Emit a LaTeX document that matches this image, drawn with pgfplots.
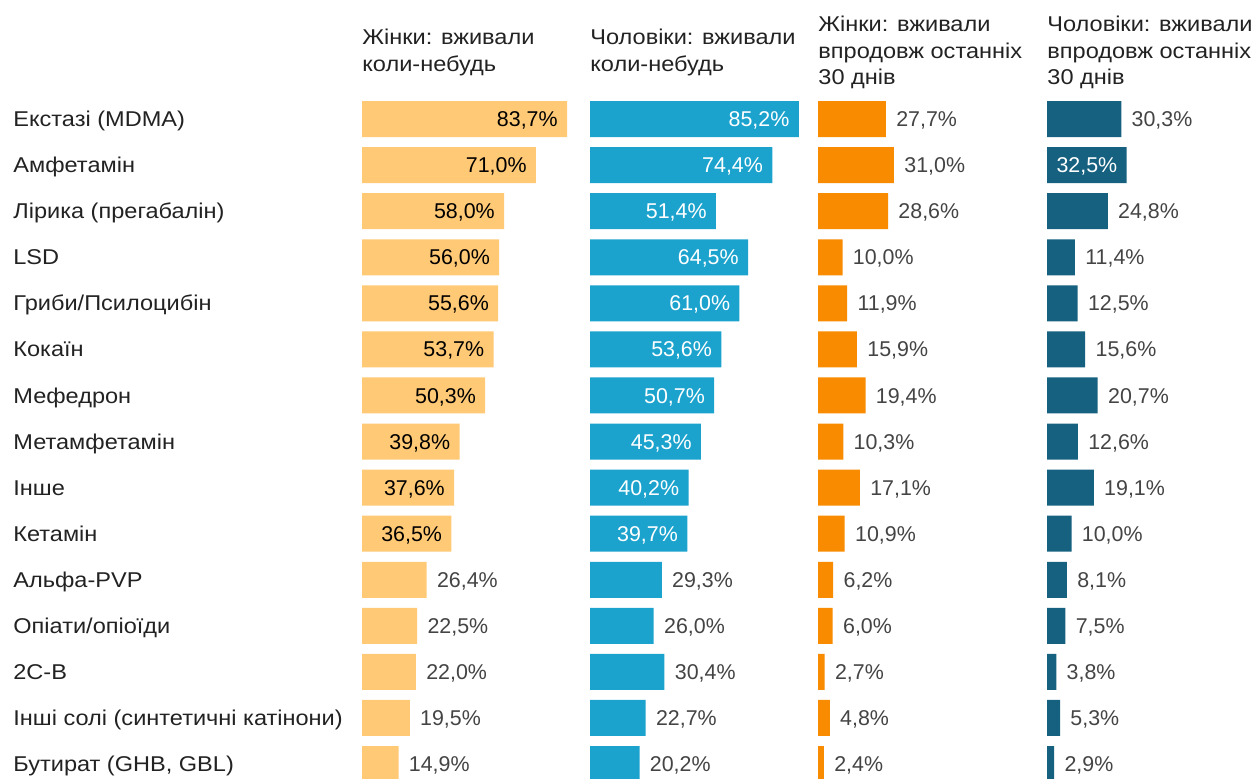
\documentclass[border=0pt]{standalone}
\usepackage{fontspec}
\setmainfont{Liberation Sans}[FakeStretch=1.1]
\newfontfamily\valfont{Liberation Sans}
\usepackage{pgfplots}
\pgfplotsset{compat=1.18}
\usepackage{pgfplotstable}

\definecolor{cA}{HTML}{FFC976}
\definecolor{cB}{HTML}{1BA3CE}
\definecolor{cC}{HTML}{F98B00}
\definecolor{cD}{HTML}{166180}
\definecolor{txt}{HTML}{222222}
\definecolor{val}{HTML}{444444}

\pgfplotstableread{
row a b c d
1 83.7 85.2 27.7 30.3
2 71.0 74.4 31.0 32.5
3 58.0 51.4 28.6 24.8
4 56.0 64.5 10.0 11.4
5 55.6 61.0 11.9 12.5
6 53.7 53.6 15.9 15.6
7 50.3 50.7 19.4 20.7
8 39.8 45.3 10.3 12.6
9 37.6 40.2 17.1 19.1
10 36.5 39.7 10.9 10.0
11 26.4 29.3 6.2 8.1
12 22.5 26.0 6.0 7.5
13 22.0 30.4 2.7 3.8
14 19.5 22.7 4.8 5.3
15 14.9 20.2 2.4 2.9
}\data

\pgfkeys{/pgf/number format/assume math mode=true}
\pgfplotsset{
  panel/.style={
    x=1.225pt, y=23.035pt, y dir=reverse,
    xmin=0, xmax=90, ymin=0.5, ymax=15.5,
    axis line style={draw=none}, tick style={draw=none},
    xtick=\empty, ytick=\empty, clip=false,
    anchor=north west,
  },
  barplot/.style={xbar, bar width=18pt, fill=#1, draw=none, bar shift=0pt},
  inlab/.style={draw=none, mark=none, restrict x to domain=32:200, point meta=x,
    nodes near coords={\pgfmathprintnumber[fixed,fixed zerofill,precision=1,use comma]{\pgfplotspointmeta}\%},
    nodes near coords style={anchor=base east, xshift=-4.5pt, yshift=-3.8pt, inner sep=0pt, text=#1, font=\valfont\fontsize{10.7pt}{12pt}\selectfont}},
  outlab/.style={draw=none, mark=none, restrict x to domain=0:32, point meta=x,
    nodes near coords={\pgfmathprintnumber[fixed,fixed zerofill,precision=1,use comma]{\pgfplotspointmeta}\%},
    nodes near coords style={anchor=base west, xshift=5pt, yshift=-3.8pt, inner sep=0pt, text=val, font=\valfont\fontsize{10.7pt}{12pt}\selectfont}},
}

\begin{document}
\begin{tikzpicture}
\path[use as bounding box] (0,0) rectangle (628pt,389pt);

\begin{axis}[panel, at={(181pt,341pt)},
  ytick={1,...,15},
  yticklabels={Екстазі (MDMA),Амфетамін,Лірика (прегабалін),LSD,Гриби/Псилоцибін,Кокаїн,Мефедрон,Метамфетамін,Інше,Кетамін,Альфа-PVP,Опіати/опіоїди,2C-B,Інші солі (синтетичні катінони),{Бутират (GHB, GBL)}},
  yticklabel style={anchor=base west, inner sep=0pt, xshift=-174.5pt, yshift=-3.8pt, text=txt, font=\fontsize{10.7pt}{12pt}\selectfont},
]
\addplot[barplot=cA] table[x=a, y=row] {\data};
\addplot[inlab=black] table[x=a, y=row] {\data};
\addplot[outlab] table[x=a, y=row] {\data};
\end{axis}

\begin{axis}[panel, at={(295pt,341pt)}]
\addplot[barplot=cB] table[x=b, y=row] {\data};
\addplot[inlab=white] table[x=b, y=row] {\data};
\addplot[outlab] table[x=b, y=row] {\data};
\end{axis}

\begin{axis}[panel, at={(409pt,341pt)}]
\addplot[barplot=cC] table[x=c, y=row] {\data};
\addplot[inlab=white] table[x=c, y=row] {\data};
\addplot[outlab] table[x=c, y=row] {\data};
\end{axis}

\begin{axis}[panel, at={(523.5pt,341pt)}]
\addplot[barplot=cD] table[x=d, y=row] {\data};
\addplot[inlab=white] table[x=d, y=row] {\data};
\addplot[outlab] table[x=d, y=row] {\data};
\end{axis}

\begin{scope}[every node/.style={anchor=west, align=left, inner sep=0pt, text=txt, font=\fontsize{10.7pt}{13.35pt}\selectfont}]
\node at (181pt,362.8pt) {Жінки: вживали\\коли-небудь};
\node at (295pt,362.8pt) {Чоловіки: вживали\\коли-небудь};
\node at (409pt,362.8pt) {Жінки: вживали\\впродовж останніх\\30 днів};
\node at (523.5pt,362.8pt) {Чоловіки: вживали\\впродовж останніх\\30 днів};
\end{scope}
\end{tikzpicture}
\end{document}
